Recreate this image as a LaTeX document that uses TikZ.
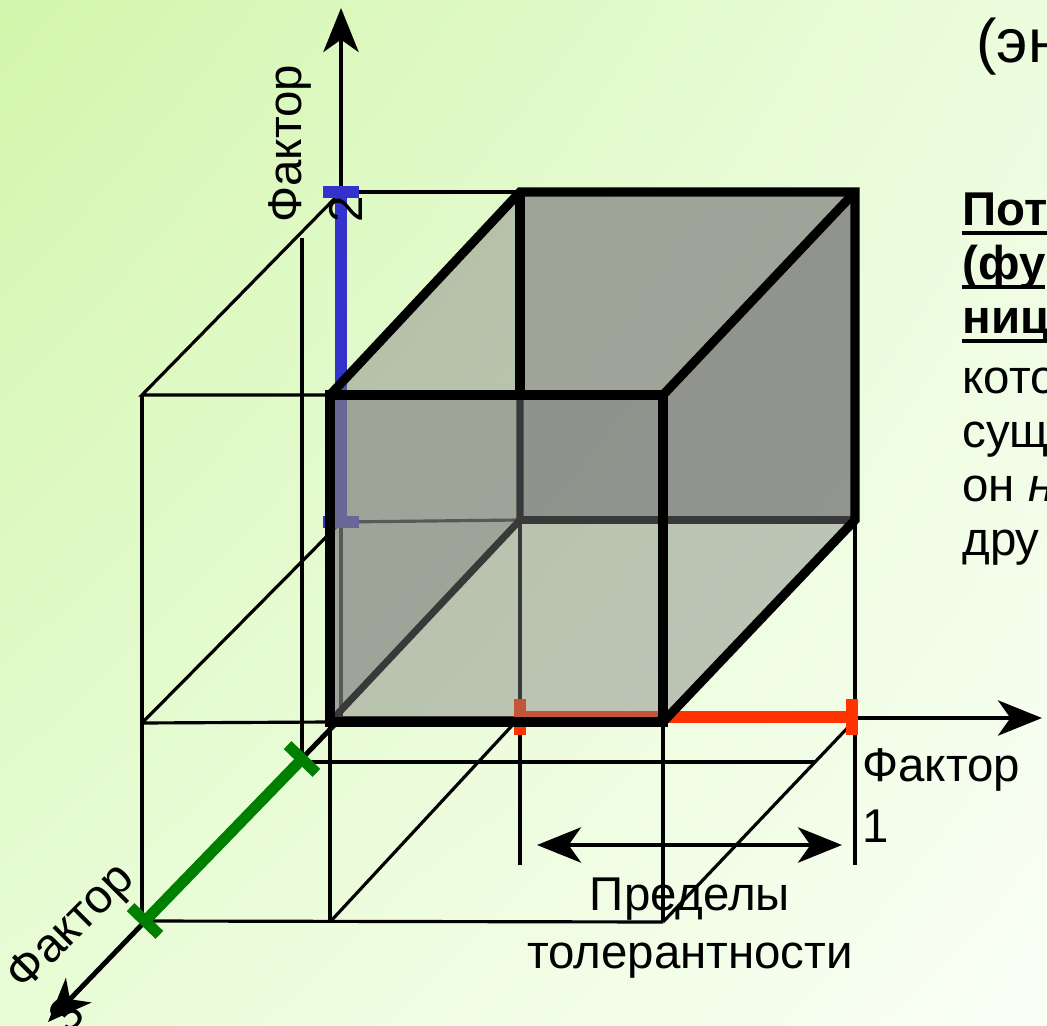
\documentclass[tikz,border=0pt]{standalone}
\usepackage{fontspec}
\setmainfont{Liberation Sans}
\usetikzlibrary{arrows.meta,shadings}
\usepackage{xcolor}

\definecolor{bgtl}{RGB}{210,246,172}
\definecolor{bgtr}{RGB}{236,252,222}
\definecolor{bgbl}{RGB}{232,252,214}
\definecolor{bgbr}{RGB}{250,255,246}
\definecolor{segblue}{RGB}{51,51,204}
\definecolor{segred}{RGB}{255,51,0}
\definecolor{seggreen}{RGB}{0,128,0}
\definecolor{facegray}{RGB}{128,128,128}

% thick underline
\newcommand{\ulword}[1]{\setbox0\hbox{#1}\rlap{\rule[-5pt]{\wd0}{2.2pt}}\box0}

\begin{document}
\begin{tikzpicture}[x=0.02cm,y=-0.02cm,>={Stealth[length=25pt,width=20pt,inset=7pt]},
  font=\fontsize{27pt}{35pt}\selectfont,
  projline/.style={line width=1.8pt},
  axisline/.style={line width=2.8pt},
  cubeface/.style={fill=facegray,fill opacity=0.45},
  cubeedge/.style={line width=5.2pt},
  hiddenedge/.style={line width=4pt},
  rangeseg/.style={line width=6.3pt},
  lbl/.style={inner sep=0pt,align=left}]
% background
\shade[upper left=bgtl,upper right=bgtr,lower left=bgbl,lower right=bgbr]
  (0,0) rectangle (1047,1026);
\useasboundingbox (0,0) rectangle (1047,1026);

\coordinate (O) at (341,718);
\coordinate (ftl) at (330,395);
\coordinate (ftr) at (663,395);
\coordinate (fbl) at (330,722);
\coordinate (fbr) at (663,722);
\coordinate (btl) at (520,192);
\coordinate (btr) at (855,192);
\coordinate (bbl) at (520,520);
\coordinate (bbr) at (855,520);
\coordinate (b1) at (341,192);
\coordinate (b2) at (341,522);
\coordinate (r1) at (520,717);
\coordinate (r2) at (852,717);
\coordinate (g1) at (302,759);
\coordinate (g2) at (145,921);
\coordinate (lt) at (142,395);
\coordinate (lb) at (142,723);
\coordinate (p1) at (330,922);
\coordinate (p2) at (663,922);

% projection lines
\draw[projline] (b1) -- (btl);
\draw[projline] (b1) -- (lt) -- (ftl);
\draw[projline] (lt) -- (142,921);
\draw[projline] (lb) -- (fbl);
\draw[projline] (lb) -- (b2) -- (bbl);
\draw[projline] (302,238) -- (g1);
\draw[projline] (302,762) -- (815,762);
\draw[projline] (g2) -- (p2);
\draw[projline] (r1) -- (p1);
\draw[projline] (855,720) -- (p2);
\draw[projline] (fbl) -- (p1);
\draw[projline] (fbr) -- (p2);
\draw[projline] (bbl) -- (520,865);
\draw[projline] (bbr) -- (855,865);

% axes
\draw[axisline,->] (O) -- (341,8);
\draw[axisline,->] (O) -- (1042,718);
\draw[axisline,->] (O) -- (48,1022);
\draw[axisline,<->] (537,845) -- (842,845);

% ranges
\draw[rangeseg,segblue] (b1) -- (b2);
\draw[rangeseg,segblue] (b1) ++(-18,0) -- ++(36,0);
\draw[rangeseg,segblue] (b2) ++(-18,0) -- ++(36,0);
\draw[rangeseg,segred] (r1) -- (r2);
\draw[rangeseg,segred] (r1) ++(0,-18) -- ++(0,36);
\draw[rangeseg,segred] (r2) ++(0,-18) -- ++(0,36);
\draw[rangeseg,seggreen] (g1) -- (g2);
\draw[rangeseg,seggreen] (g1) ++(-14.4,-13.9) -- ++(28.8,27.8);
\draw[rangeseg,seggreen] (g2) ++(-14.4,-13.9) -- ++(28.8,27.8);

% cube
\fill[cubeface,fill opacity=0.7] (btl) rectangle (bbr);
\draw[hiddenedge] (bbl) -- (bbr);
\fill[cubeface] (ftl) -- (btl) -- (bbl) -- (fbl) -- cycle;
\fill[cubeface] (ftr) -- (btr) -- (bbr) -- (fbr) -- cycle;
\draw[hiddenedge] (fbl) -- (bbl) -- (btl |- ftl);
\fill[cubeface] (ftl) rectangle (fbr);
\draw[cubeedge] (ftl) rectangle (fbr);
\draw[cubeedge] (ftl) -- (btl) -- (btr) -- (bbr) -- (fbr);
\draw[cubeedge] (ftr) -- (btr);
\draw[cubeedge] (btl) -- (btl |- ftl);

% labels
\node[lbl,rotate=90,anchor=north west] (f2) at (268,223) {Фактор\\2};
\node[lbl,rotate=45,anchor=north west] (f3) at (1,969) {Фактор\\3};
\node[lbl,anchor=north west] (f1) at (862,748) {Фактор\\1};
\node[lbl,align=center,anchor=north,font=\fontsize{27pt}{33pt}\selectfont] (tol) at (690,878)
  {Пределы\\толерантности};
\node[lbl,anchor=north west,font=\fontsize{35pt}{40pt}\selectfont] (paren) at (976,18) {(эн};
\node[lbl,anchor=north west,font=\fontsize{27pt}{30.7pt}\selectfont] (para) at (962,193)
  {\ulword{\textbf{Пот}}\\\ulword{\textbf{(фу}}\\\ulword{\textbf{ниц}}\\[3.4pt]кото\\сущ\\он \textit{н}\\дру};
\end{tikzpicture}
\end{document}
